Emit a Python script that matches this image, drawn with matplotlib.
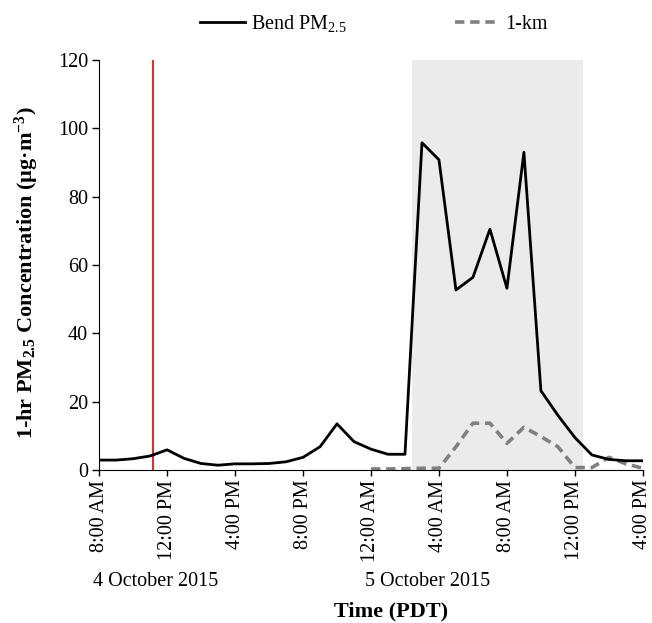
import matplotlib
matplotlib.use("Agg")
import matplotlib.pyplot as plt
from matplotlib.lines import Line2D
from matplotlib.transforms import blended_transform_factory

plt.rcParams["font.family"] = ["Liberation Serif", "DejaVu Serif"]
plt.rcParams["mathtext.fontset"] = "custom"
plt.rcParams["mathtext.rm"] = "Liberation Serif"
plt.rcParams["mathtext.it"] = "Liberation Serif:italic"
plt.rcParams["mathtext.bf"] = "Liberation Serif:bold"

# hours since 8:00 AM, 4 October 2015
hours_bend = list(range(0, 33))
bend_pm25 = [2.9, 2.9, 3.3, 4.1, 5.9, 3.4, 1.9, 1.4, 1.8, 1.8, 1.9, 2.4, 3.7,
             6.8, 13.5, 8.3, 6.1, 4.6, 4.6, 95.8, 90.8, 52.7, 56.4, 70.5, 53.2,
             93.0, 23.2, 16.0, 9.5, 4.4, 3.1, 2.7, 2.7]
hours_km = list(range(16, 33))
km_1 = [0.3, 0.3, 0.4, 0.5, 0.5, 6.8, 13.7, 13.7, 7.8, 12.5, 9.8, 6.8, 0.7,
        0.7, 3.7, 1.8, 0.5]

tick_hours = [0, 4, 8, 12, 16, 20, 24, 28, 32]
tick_labels = ["8:00 AM", "12:00 PM", "4:00 PM", "8:00 PM", "12:00 AM",
               "4:00 AM", "8:00 AM", "12:00 PM", "4:00 PM"]
event_hour = 3.2
smoke_start, smoke_end = 18.4, 28.5
date_labels = ["4 October 2015", "5 October 2015"]
date_hours = [3.3, 19.3]

FS = 14.5

fig = plt.figure(figsize=(6.52, 6.23), dpi=100)
ax = fig.add_axes([0.152, 0.2456, 0.834, 0.658])

ax.axvspan(smoke_start, smoke_end, color="#ebebeb", lw=0, zorder=0)
ax.axvline(event_hour, color="#ee2222", lw=1.4, zorder=1)
ax.plot(hours_bend, bend_pm25, color="black", lw=2.0, zorder=3)
ax.plot(hours_km, km_1, color="#808080", lw=2.6, ls=(0, (2.6, 1.6)), zorder=2)

ax.set_xlim(0, 32)
ax.set_ylim(0, 120)
ax.set_yticks(range(0, 121, 20))
ax.set_xticks(tick_hours)
ax.set_xticklabels(tick_labels, rotation=90)
ax.tick_params(axis="both", labelsize=FS, width=1, direction="out")
ax.tick_params(axis="y", length=5, pad=3)
ax.tick_params(axis="x", length=4, pad=3)
for s in ("top", "right"):
    ax.spines[s].set_visible(False)

trans = blended_transform_factory(ax.transData, fig.transFigure)
for lab, h in zip(date_labels, date_hours):
    ax.text(h, 0.066, lab, transform=trans, ha="center", va="center", fontsize=FS)

fig.text(0.600, 0.019, "Time (PDT)", ha="center", va="center",
         fontsize=16, fontweight="bold")
fig.text(0.042, 0.563, r"1-hr PM$_\mathbf{2.5}$ Concentration (µg·m$^\mathbf{-3}$)",
         rotation=90, ha="center", va="center", fontsize=16, fontweight="bold")

handles = [Line2D([], [], color="black", lw=2.0),
           Line2D([], [], color="#808080", lw=2.6, ls=(0, (2.6, 1.6)))]
fig.legend(handles, ["Bend PM$_{2.5}$", "1-km"], loc="center",
           bbox_to_anchor=(0.574, 0.963), ncol=2, frameon=False, fontsize=FS,
           handlelength=2.2, handletextpad=0.3, columnspacing=5.4)

fig.savefig("out.png", dpi=100)
